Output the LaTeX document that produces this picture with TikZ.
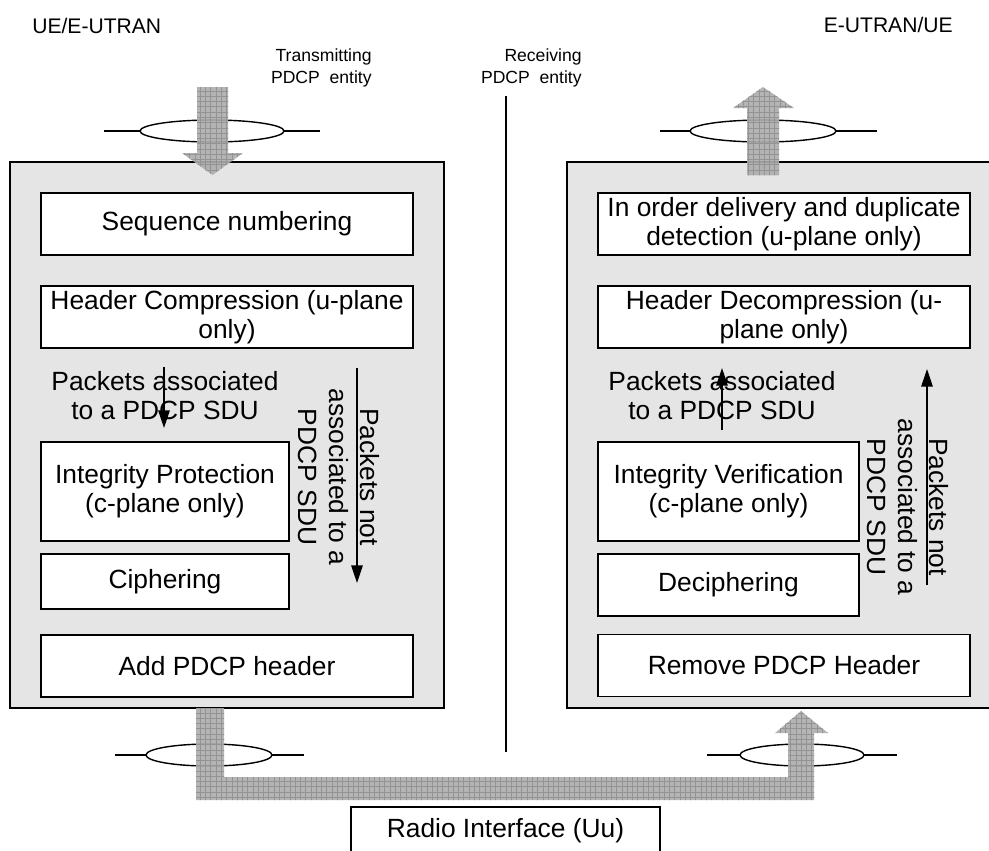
\documentclass[tikz,border=0pt]{standalone}
\usepackage{fontspec}
\setmainfont{Liberation Sans}
\usetikzlibrary{arrows.meta,patterns}

\begin{document}
\begin{tikzpicture}[x=0.02cm,y=-0.02cm]
    \tikzstyle{entite}=[draw,line width=1pt,fill=gray!20,minimum width=8.68cm,minimum height=10.92cm]
    \tikzstyle{bloc}=[draw,line width=0.8pt,fill=white,align=center,inner sep=1pt,font=\fontsize{15}{16.5}\selectfont]
    \tikzstyle{largebloc}=[bloc,minimum width=7.44cm,minimum height=1.24cm]
    \tikzstyle{texte}=[align=center,inner sep=0pt,font=\fontsize{15}{16.5}\selectfont]
    \tikzstyle{titre}=[inner sep=0pt,font=\fontsize{12}{14}\selectfont]
    \tikzstyle{pdcp}=[anchor=east,align=right,inner sep=0pt,font=\fontsize{10}{13}\selectfont]
    \tikzstyle{fleche}=[-{Triangle[length=10pt,width=6.5pt]},line width=0.8pt]
    \tikzstyle{gros}=[fill=gray!65,fill opacity=0.9,postaction={pattern=grid,pattern color=gray!85}]
  \clip (0,0) rectangle (989,850);
  % entites PDCP
  \node[entite] (emet) at (227,435) {};
  \node[entite] (recp) at (784,435) {};
  \node[titre,anchor=west] (ue) at (32,26) {UE/E-UTRAN};
  \node[titre,anchor=east] (enb) at (953,25) {E-UTRAN/UE};
  \node[pdcp] (tx) at (372,68) {Transmitting\\PDCP~ entity};
  \node[pdcp] (rx) at (582,68) {Receiving\\PDCP~ entity};
  \coordinate (haut) at (506,96);
  \coordinate (bas) at (506,752);
  \draw[line width=0.8pt] (haut) -- (bas);
  % cote emission
  \node[largebloc] (seq) at (227,224) {Sequence numbering};
  \node[largebloc] (hc) at (227,317) {Header Compression (u-plane\\only)};
  \node[bloc,minimum width=4.96cm,minimum height=1.98cm] (ip) at (165,491.5) {Integrity Protection\\(c-plane only)};
  \node[bloc,minimum width=4.96cm,minimum height=1.1cm] (ciph) at (165,581.5) {Ciphering};
  \node[largebloc] (add) at (227,666) {Add PDCP header};
  \node[texte] (pa1) at (165,396) {Packets associated\\to a PDCP SDU};
  \node[texte,rotate=-90,font=\fontsize{15}{17.5}\selectfont] (pn1) at (339,477) {Packets not\\associated to a\\PDCP SDU};
  \coordinate (d1) at (164,367); \coordinate (f1) at (164,428);
  \coordinate (d2) at (357,368); \coordinate (f2) at (357,583);
  \draw[fleche] (d1) -- (f1);
  \draw[fleche] (d2) -- (f2);
  % cote reception
  \node[largebloc] (iod) at (784,224) {In order delivery and duplicate\\detection (u-plane only)};
  \node[largebloc] (hd) at (784,317) {Header Decompression (u-\\plane only)};
  \node[bloc,minimum width=5.22cm,minimum height=1.98cm] (iv) at (728.5,491.5) {Integrity Verification\\(c-plane only)};
  \node[bloc,minimum width=5.22cm,minimum height=1.24cm] (deciph) at (728.5,585) {Deciphering};
  \node[largebloc] (rem) at (784,665.5) {Remove PDCP Header};
  \node[texte] (pa2) at (722,396) {Packets associated\\to a PDCP SDU};
  \node[texte,rotate=-90,font=\fontsize{15}{17.5}\selectfont] (pn2) at (908,507) {Packets not\\associated to a\\PDCP SDU};
  \coordinate (d3) at (722,430); \coordinate (f3) at (722,368);
  \coordinate (d4) at (927,585); \coordinate (f4) at (927,369);
  \draw[fleche] (d3) -- (f3);
  \draw[fleche] (d4) -- (f4);
  % interface radio
  \node[draw,line width=0.8pt,minimum width=6.18cm,minimum height=0.96cm,font=\fontsize{15}{16.5}\selectfont] (radio) at (505.5,831) {Radio Interface (Uu)};
  % SAP
  \foreach \cx/\cy/\rx/\xa/\xb in {212/131/72/104/320, 763/131/73/660/877, 209/755/63/115/304, 802/755/62/707/897}{
    \draw[line width=0.8pt] (\xa,\cy) -- (\xb,\cy);
    \draw[line width=0.8pt,fill=white] (\cx,\cy) ellipse [x radius=\rx*0.02cm, y radius=0.22cm];
  }
  % grosses fleches
  \fill[gros] (197,87) -- (228,87) -- (228,153) -- (243,153) -- (212.5,175) -- (182,153) -- (197,153) -- cycle;
  \fill[gros] (747,175) -- (747,108) -- (733,108) -- (763,87) -- (794,108) -- (779,108) -- (779,175) -- cycle;
  \fill[gros] (196,708) -- (224,708) -- (224,777) -- (788,777) -- (788,733) -- (775,733) -- (801,711)
    -- (828,733) -- (814,733) -- (814,800) -- (196,800) -- cycle;
\end{tikzpicture}
\end{document}
